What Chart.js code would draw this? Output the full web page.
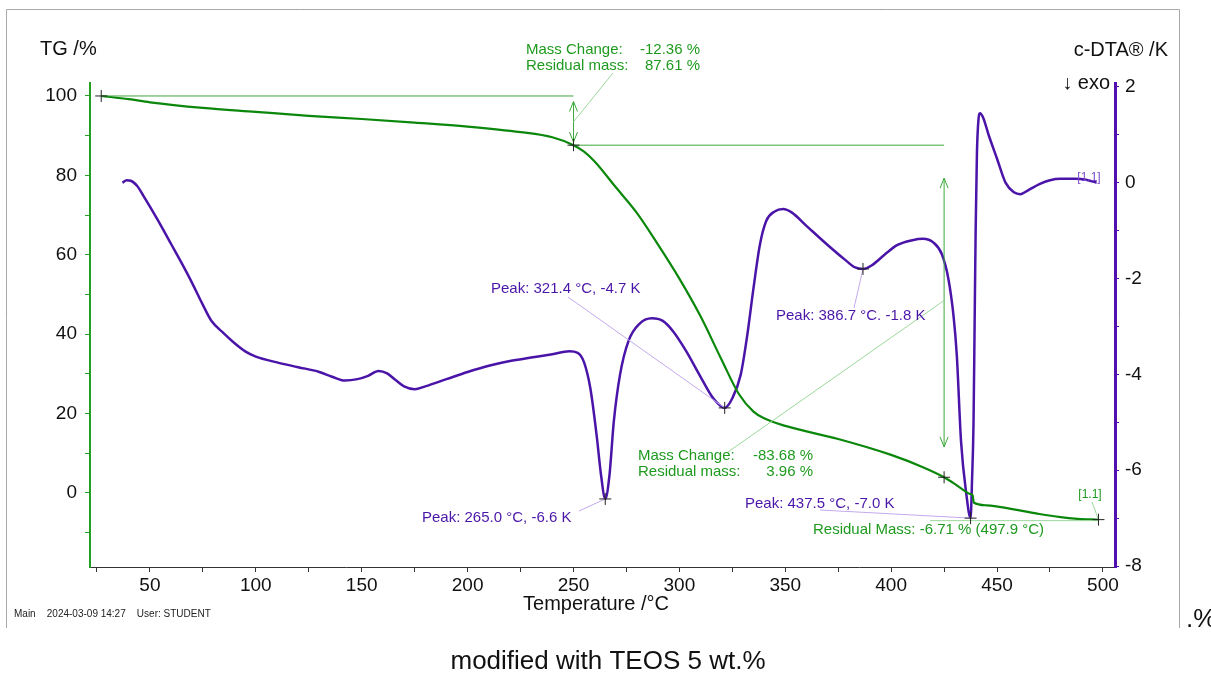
<!DOCTYPE html>
<html>
<head>
<meta charset="utf-8">
<script src="https://cdn.jsdelivr.net/npm/chart.js@4.4.1/dist/chart.umd.min.js"></script>
<style>
  html, body { margin: 0; padding: 0; background: #fff; }
  #wrap { position: relative; width: 1211px; height: 675px; }
</style>
</head>
<body>
<div id="wrap"><canvas id="tgChart" width="1211" height="675"></canvas></div>
<script>
// TG curve (temperature °C, mass %)
let tgTemp = [27, 40, 50, 75, 100, 125, 150, 175, 200, 225, 240, 250, 255, 260, 270, 280, 290, 300, 310, 320, 328, 335, 340, 350, 375, 400, 415, 425, 430, 434, 437, 438.5, 439, 445, 451, 460, 470, 480, 488, 497.9];
let tgMass = [100, 99.2, 98.4, 97.0, 96.0, 95.0, 94.2, 93.3, 92.3, 90.9, 89.6, 87.61, 86.0, 83.5, 77.0, 70.5, 62.5, 54.0, 44.5, 33.5, 25.0, 20.5, 18.8, 16.9, 13.6, 9.6, 6.5, 3.96, 2.3, 0.8, -0.2, -0.6, -2.4, -3.1, -3.5, -4.3, -5.3, -6.1, -6.5, -6.71];

// c-DTA curve (temperature °C, K)
let dtaTemp = [37, 39, 41, 44, 47, 50, 55, 60, 65, 70, 75, 79, 85, 90, 95, 100, 110, 120, 130, 136, 142, 148, 153, 158, 162, 166, 170, 175, 180, 190, 200, 210, 220, 230, 240, 248, 252, 255, 258, 261, 263, 265, 267, 269, 272, 276, 281, 287, 292, 297, 303, 310, 316, 321.4, 325, 329, 332, 335, 338, 341, 345, 349, 353, 360, 370, 378, 383, 386.7, 391, 397, 403, 410, 415, 420, 424, 427, 429.5, 431, 433, 435.5, 437.5, 438.2, 438.9, 439.4, 439.9, 440.5, 441.2, 442, 443.5, 446, 450, 454, 458, 461, 465, 470, 475, 480, 487, 492, 497];
let dtaSignal = [0.0, 0.05, 0.04, -0.07, -0.28, -0.5, -0.88, -1.28, -1.68, -2.1, -2.55, -2.88, -3.15, -3.35, -3.52, -3.63, -3.75, -3.85, -3.95, -4.05, -4.13, -4.1, -4.03, -3.93, -3.98, -4.12, -4.25, -4.31, -4.25, -4.1, -3.95, -3.82, -3.72, -3.65, -3.58, -3.52, -3.55, -3.75, -4.3, -5.3, -6.1, -6.6, -6.1, -5.0, -4.0, -3.3, -2.95, -2.83, -2.88, -3.1, -3.5, -4.05, -4.5, -4.7, -4.5, -4.0, -3.2, -2.2, -1.3, -0.8, -0.6, -0.55, -0.62, -0.9, -1.3, -1.6, -1.77, -1.8, -1.72, -1.5, -1.3, -1.2, -1.17, -1.25, -1.5, -2.0, -2.8, -3.6, -5.4, -6.5, -7.0, -6.2, -5.0, -3.0, -1.0, 0.6, 1.3, 1.45, 1.35, 1.0, 0.5, 0.0, -0.2, -0.24, -0.15, -0.03, 0.05, 0.08, 0.08, 0.06, 0.0];

// tick values
let xTicks = [25, 50, 75, 100, 125, 150, 175, 200, 225, 250, 275, 300, 325, 350, 375, 400, 425, 450, 475, 500];
let tgTicks = [-10, 0, 10, 20, 30, 40, 50, 60, 70, 80, 90, 100];
let dtaTicks = [-8, -7, -6, -5, -4, -3, -2, -1, 0, 1, 2];

// evaluated points (temperature, value)
let tgMarks = [[27, 100], [250, 87.61], [425, 3.96], [497.9, -6.71]];
let dtaPeaks = [[265.0, -6.6], [321.4, -4.7], [386.7, -1.8], [437.5, -7.0]];

const FONT = "'Liberation Sans', Arial, sans-serif";
const GREEN_TXT = "#1f9a1f";
const GREEN_LINE = "#3ca83c";
const GREEN_LIGHT = "#9cd89c";
const PURPLE = "#4a16a8";
const PURPLE_LIGHT = "#c4a9ec";

function toXY(xs, ys) {
  return xs.map((x, i) => ({ x: x, y: ys[i] }));
}

function cross(ctx, x, y) {
  ctx.strokeStyle = "#222";
  ctx.lineWidth = 1;
  ctx.beginPath();
  ctx.moveTo(x - 6, y); ctx.lineTo(x + 6, y);
  ctx.moveTo(x, y - 6); ctx.lineTo(x, y + 6);
  ctx.stroke();
}

function line(ctx, x1, y1, x2, y2, color, w) {
  ctx.strokeStyle = color;
  ctx.lineWidth = w || 1;
  ctx.beginPath();
  ctx.moveTo(x1, y1);
  ctx.lineTo(x2, y2);
  ctx.stroke();
}

function dblArrow(ctx, x, y1, y2) {
  line(ctx, x, y1, x, y2, GREEN_LINE, 1);
  ctx.beginPath();
  ctx.moveTo(x - 4, y1 + 10); ctx.lineTo(x, y1); ctx.lineTo(x + 4, y1 + 10);
  ctx.moveTo(x - 4, y2 - 10); ctx.lineTo(x, y2); ctx.lineTo(x + 4, y2 - 10);
  ctx.stroke();
}

function text(ctx, s, x, y, color, size, align) {
  ctx.fillStyle = color;
  ctx.font = size + "px " + FONT;
  ctx.textAlign = align || "left";
  ctx.textBaseline = "middle";
  ctx.fillText(s, x, y);
}

const annotations = {
  id: "annotations",
  afterDatasetsDraw(chart) {
    const ctx = chart.ctx;
    const sx = chart.scales.x, sl = chart.scales.y, sr = chart.scales.y2;
    const X = (v) => sx.getPixelForValue(v);
    const L = (v) => sl.getPixelForValue(v);
    const R = (v) => sr.getPixelForValue(v);
    ctx.save();

    // mass change 1
    line(ctx, X(27), L(100), X(250), L(100), GREEN_LINE, 1);
    line(ctx, X(250), L(87.61), X(425), L(87.61), GREEN_LINE, 1);
    dblArrow(ctx, X(250), L(98.6), L(88.4));
    line(ctx, X(250), L(93.5), 613, 73, GREEN_LIGHT, 1);

    // mass change 2
    dblArrow(ctx, X(425), L(79.3), L(11.6));
    line(ctx, X(425), L(48.5), 728, 452, GREEN_LIGHT, 1);

    // residual mass
    line(ctx, 930, L(-6.71) + 1, X(497.9), L(-6.71) + 1, GREEN_LIGHT, 1);
    line(ctx, 1092, 502, X(497.9), L(-6.71), GREEN_LIGHT, 1);

    // peak leaders
    line(ctx, 579, 511, X(265.0), R(-6.6), PURPLE_LIGHT, 1);
    line(ctx, 568, 297, X(321.4), R(-4.7), PURPLE_LIGHT, 1);
    line(ctx, 854, 308, X(386.7), R(-1.8), PURPLE_LIGHT, 1);
    line(ctx, 820, 510, X(437.5), R(-7.0), PURPLE_LIGHT, 1);

    tgMarks.forEach((p) => cross(ctx, X(p[0]), L(p[1])));
    dtaPeaks.forEach((p) => cross(ctx, X(p[0]), R(p[1])));

    // texts
    text(ctx, "Mass Change:", 526, 50, GREEN_TXT, 15);
    text(ctx, "-12.36 %", 700, 50, GREEN_TXT, 15, "right");
    text(ctx, "Residual mass:", 526, 66, GREEN_TXT, 15);
    text(ctx, "87.61 %", 700, 66, GREEN_TXT, 15, "right");

    text(ctx, "Mass Change:", 638, 456, GREEN_TXT, 15);
    text(ctx, "-83.68 %", 813, 456, GREEN_TXT, 15, "right");
    text(ctx, "Residual mass:", 638, 472, GREEN_TXT, 15);
    text(ctx, "3.96 %", 813, 472, GREEN_TXT, 15, "right");

    text(ctx, "Residual Mass: -6.71 % (497.9 °C)", 813, 530, GREEN_TXT, 15);
    text(ctx, "[1.1]", 1090, 495, GREEN_TXT, 12, "center");
    text(ctx, "[1.1]", 1089, 178, "#7a4ac8", 12, "center");

    text(ctx, "Peak: 265.0 °C, -6.6 K", 422, 518, PURPLE, 15);
    text(ctx, "Peak: 321.4 °C, -4.7 K", 491, 289, PURPLE, 15);
    text(ctx, "Peak: 437.5 °C, -7.0 K", 745, 504, PURPLE, 15);
    ctx.save();
    ctx.beginPath();
    ctx.rect(760, 300, 200, 20);
    ctx.clip();
    text(ctx, "Peak: 386.7 °C, -1.8 K", 776, 316, PURPLE, 15);
    ctx.restore();

    ctx.restore();
  },
  afterDraw(chart) {
    const ctx = chart.ctx;
    ctx.save();
    // frame
    ctx.strokeStyle = "#a8a8a8";
    ctx.lineWidth = 1;
    ctx.beginPath();
    ctx.moveTo(6.5, 628); ctx.lineTo(6.5, 9.5); ctx.lineTo(1179.5, 9.5); ctx.lineTo(1179.5, 628);
    ctx.stroke();

    text(ctx, "TG /%", 40, 49, "#111", 20);
    text(ctx, "c-DTA® /K", 1168, 50, "#111", 20, "right");
    text(ctx, "↓ exo", 1110, 83, "#111", 20, "right");
    text(ctx, "Temperature /°C", 596, 604, "#111", 20, "center");
    text(ctx, "Main    2024-03-09 14:27    User: STUDENT", 14, 614, "#222", 10);
    text(ctx, ".%", 1186, 620, "#111", 26);
    text(ctx, "modified with TEOS 5 wt.%", 608, 662, "#111", 26, "center");
    ctx.restore();
  },
};

const tickFont = { family: FONT, size: 19 };

new Chart(document.getElementById("tgChart"), {
  type: "line",
  data: {
    datasets: [
      {
        label: "TG",
        data: toXY(tgTemp, tgMass),
        yAxisID: "y",
        borderColor: "#0b870b",
        borderWidth: 2.2,
        pointRadius: 0,
        cubicInterpolationMode: "monotone",
      },
      {
        label: "c-DTA",
        data: toXY(dtaTemp, dtaSignal),
        yAxisID: "y2",
        borderColor: "#4a14a8",
        borderWidth: 2.5,
        pointRadius: 0,
        cubicInterpolationMode: "monotone",
      },
    ],
  },
  options: {
    responsive: false,
    animation: false,
    layout: { padding: { top: 83, left: 0, right: 0, bottom: 0 } },
    plugins: { legend: { display: false }, tooltip: { enabled: false } },
    scales: {
      x: {
        type: "linear",
        min: 21.7,
        max: 505.7,
        border: { color: "#333", width: 1 },
        grid: { drawOnChartArea: false, drawTicks: true, tickLength: 5, tickColor: "#333" },
        ticks: {
          font: tickFont,
          color: "#111",
          padding: 2,
          maxRotation: 0,
          autoSkip: false,
          callback: (v) => (v % 50 === 0 ? v : ""),
        },
        afterBuildTicks: (s) => { s.ticks = xTicks.map((v) => ({ value: v })); },
        afterFit: (s) => { s.height = 108; },
      },
      y: {
        type: "linear",
        position: "left",
        min: -18.64,
        max: 103.27,
        border: { color: "#22a022", width: 2 },
        grid: { drawOnChartArea: false, drawTicks: true, tickLength: 5, tickColor: "#22a022" },
        ticks: {
          font: tickFont,
          color: "#111",
          padding: 8,
          autoSkip: false,
          callback: (v) => (v % 20 === 0 ? v : ""),
        },
        afterBuildTicks: (s) => { s.ticks = tgTicks.map((v) => ({ value: v })); },
        afterFit: (s) => { s.width = 90; },
      },
      y2: {
        type: "linear",
        position: "right",
        min: -8.02,
        max: 2.08,
        border: { color: "#5010b0", width: 3 },
        grid: { drawOnChartArea: false, drawTicks: true, tickLength: 4, tickColor: "#5010b0" },
        ticks: {
          font: tickFont,
          color: "#111",
          padding: 6,
          autoSkip: false,
          callback: (v) => (v % 2 === 0 ? v : ""),
        },
        afterBuildTicks: (s) => { s.ticks = dtaTicks.map((v) => ({ value: v })); },
        afterFit: (s) => { s.width = 96; },
      },
    },
  },
  plugins: [annotations],
});
</script>
</body>
</html>
